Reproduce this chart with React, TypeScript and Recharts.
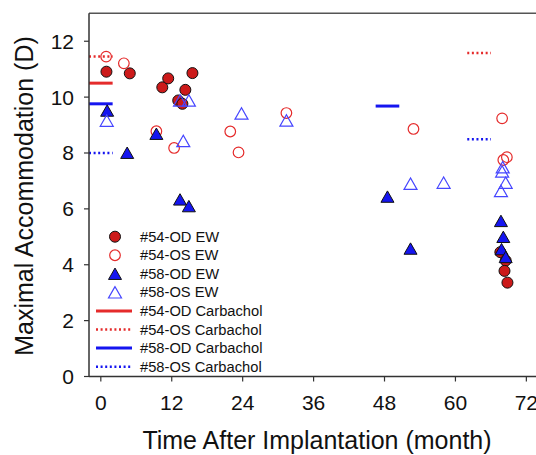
import React from 'react';
import { ScatterChart, Scatter, XAxis, YAxis, ReferenceLine, Legend, Label } from 'recharts';

const xTicks = [0, 12, 24, 36, 48, 60, 72];
const yTicks = [0, 2, 4, 6, 8, 10, 12];

const od54EW = [
  { x: 0.95, y: 10.91 }, { x: 4.9, y: 10.85 }, { x: 10.4, y: 10.35 }, { x: 11.4, y: 10.67 },
  { x: 13.1, y: 9.88 }, { x: 13.8, y: 9.76 }, { x: 14.3, y: 10.26 }, { x: 15.5, y: 10.86 },
  { x: 67.6, y: 4.45 }, { x: 68.5, y: 4.15 }, { x: 68.3, y: 3.78 }, { x: 68.8, y: 3.36 },
];
const os54EW = [
  { x: 0.9, y: 11.45 }, { x: 3.9, y: 11.21 }, { x: 9.4, y: 8.78 }, { x: 12.4, y: 8.18 },
  { x: 21.9, y: 8.77 }, { x: 23.3, y: 8.02 }, { x: 31.4, y: 9.43 }, { x: 52.9, y: 8.86 },
  { x: 67.9, y: 9.24 }, { x: 68.7, y: 7.85 }, { x: 68.1, y: 7.75 },
];
const od58EW = [
  { x: 1.07, y: 9.48 }, { x: 4.46, y: 7.97 }, { x: 9.4, y: 8.65 }, { x: 13.4, y: 6.3 },
  { x: 14.9, y: 6.06 }, { x: 48.5, y: 6.4 }, { x: 52.4, y: 4.54 }, { x: 67.7, y: 5.53 },
  { x: 68.1, y: 4.96 }, { x: 67.8, y: 4.52 }, { x: 68.5, y: 4.24 },
];
const os58EW = [
  { x: 1.0, y: 9.12 }, { x: 13.4, y: 9.84 }, { x: 14.9, y: 9.84 }, { x: 13.95, y: 8.39 },
  { x: 23.8, y: 9.375 }, { x: 31.4, y: 9.125 }, { x: 52.4, y: 6.86 }, { x: 58, y: 6.9 },
  { x: 68.0, y: 7.45 }, { x: 67.9, y: 7.3 }, { x: 68.5, y: 6.9 }, { x: 67.7, y: 6.6 },
];

const od54Carbachol = [{ x0: -2, x1: 2, y: 10.5 }];
const os54Carbachol = [{ x0: -2, x1: 2, y: 11.45 }, { x0: 62, x1: 66, y: 11.58 }];
const od58Carbachol = [{ x0: -2, x1: 2, y: 9.76 }, { x0: 46.5, x1: 50.5, y: 9.68 }];
const os58Carbachol = [{ x0: -2, x1: 2, y: 8.0 }, { x0: 62, x1: 66, y: 8.49 }];

const legendLabels = [
  '#54-OD EW', '#54-OS EW', '#58-OD EW', '#58-OS EW',
  '#54-OD Carbachol', '#54-OS Carbachol', '#58-OD Carbachol', '#58-OS Carbachol',
];

const RED_FILL = '#cc1a1a';
const RED_LINE = '#e52b2b';
const BLUE_FILL = '#1515f0';
const BLUE_LINE = '#4646ff';
const FONT = '"Liberation Sans", Arial, sans-serif';

const FilledCircle = (p: any) => (
  <circle cx={p.cx} cy={p.cy} r={5.5} fill={RED_FILL} stroke="#111" strokeWidth={1} />
);
const OpenCircle = (p: any) => (
  <circle cx={p.cx} cy={p.cy} r={5.3} fill="none" stroke={RED_LINE} strokeWidth={1.2} />
);
const triPts = (cx: number, cy: number) =>
  `${cx},${cy - 6.8} ${cx - 6.5},${cy + 4.6} ${cx + 6.5},${cy + 4.6}`;
const FilledTri = (p: any) => (
  <polygon points={triPts(p.cx, p.cy)} fill={BLUE_FILL} stroke="#111" strokeWidth={1} strokeLinejoin="round" />
);
const OpenTri = (p: any) => (
  <polygon points={triPts(p.cx, p.cy)} fill="none" stroke={BLUE_LINE} strokeWidth={1.2} />
);

const segs = (arr: { x0: number; x1: number; y: number }[], color: string, dotted: boolean, key: string) =>
  arr.map((s, i) => (
    <ReferenceLine
      key={`${key}-${i}`}
      segment={[{ x: s.x0, y: s.y }, { x: s.x1, y: s.y }]}
      stroke={color}
      strokeWidth={dotted ? 2.5 : 3}
      strokeDasharray={dotted ? '2 2.6' : undefined}
      ifOverflow="visible"
    />
  ));

const LegendBox = () => {
  const rowY = (i: number) => 10.7 + i * 18.57;
  return (
    <svg width={200} height={152} style={{ display: 'block', fontFamily: FONT }}>
      {legendLabels.map((lab, i) => {
        const y = rowY(i);
        let icon: any = null;
        if (i === 0) icon = <FilledCircle cx={22} cy={y} />;
        if (i === 1) icon = <OpenCircle cx={22} cy={y} />;
        if (i === 2) icon = <FilledTri cx={22} cy={y + 1} />;
        if (i === 3) icon = <OpenTri cx={22} cy={y + 1} />;
        if (i >= 4) {
          const color = i < 6 ? RED_LINE : BLUE_FILL;
          const dotted = i % 2 === 1;
          icon = (
            <line x1={3} x2={39} y1={y} y2={y} stroke={color} strokeWidth={dotted ? 2.5 : 3}
              strokeDasharray={dotted ? '2 2.6' : undefined} />
          );
        }
        return (
          <g key={lab}>
            {icon}
            <text x={47} y={y + 5} fontSize={14.7} fill="#111">{lab}</text>
          </g>
        );
      })}
    </svg>
  );
};

export default function App() {
  return (
    <div style={{ position: 'absolute', left: 0, top: 0, width: 536, height: 455, overflow: 'hidden', background: '#fff', fontFamily: FONT }}>
      <ScatterChart width={560} height={455} margin={{ top: 13.3, right: 10, bottom: 0, left: 0 }}>
        <XAxis
          type="number"
          dataKey="x"
          domain={[-2, 76]}
          ticks={xTicks}
          allowDataOverflow
          height={78.5}
          tickSize={5}
          tickMargin={14}
          tick={{ fill: '#111', fontSize: 21, fontFamily: FONT }}
          axisLine={{ stroke: '#333', strokeWidth: 1.5 }}
          tickLine={{ stroke: '#333', strokeWidth: 1.2 }}
        >
          <Label
            content={() => (
              <text x={317} y={449} textAnchor="middle" fontSize={25} fill="#111" fontFamily={FONT}>
                Time After Implantation (month)
              </text>
            )}
          />
        </XAxis>
        <YAxis
          type="number"
          dataKey="y"
          domain={[0, 13]}
          ticks={yTicks}
          allowDataOverflow
          width={89}
          tickSize={5}
          tickMargin={10}
          tick={{ fill: '#111', fontSize: 21, fontFamily: FONT }}
          axisLine={{ stroke: '#333', strokeWidth: 1.5 }}
          tickLine={{ stroke: '#333', strokeWidth: 1.2 }}
        >
          <Label
            content={() => (
              <text x={33} y={196} transform="rotate(-90 33 196)" textAnchor="middle" fontSize={25} fill="#111" fontFamily={FONT}>
                Maximal Accommodation (D)
              </text>
            )}
          />
        </YAxis>
        <ReferenceLine y={13} stroke="#555" strokeWidth={1.5} />
        {segs(od54Carbachol, RED_LINE, false, 'a')}
        {segs(os54Carbachol, RED_LINE, true, 'b')}
        {segs(od58Carbachol, BLUE_FILL, false, 'c')}
        {segs(os58Carbachol, BLUE_FILL, true, 'd')}
        <Scatter name="#54-OD EW" data={od54EW} shape={FilledCircle} isAnimationActive={false} />
        <Scatter name="#54-OS EW" data={os54EW} shape={OpenCircle} isAnimationActive={false} />
        <Scatter name="#58-OD EW" data={od58EW} shape={FilledTri} isAnimationActive={false} />
        <Scatter name="#58-OS EW" data={os58EW} shape={OpenTri} isAnimationActive={false} />
        <Legend
          layout="vertical"
          align="center"
          verticalAlign="middle"
          content={() => <LegendBox />}
          wrapperStyle={{ position: 'absolute', left: 93, top: 226, width: 200, height: 152 }}
        />
      </ScatterChart>
    </div>
  );
}
